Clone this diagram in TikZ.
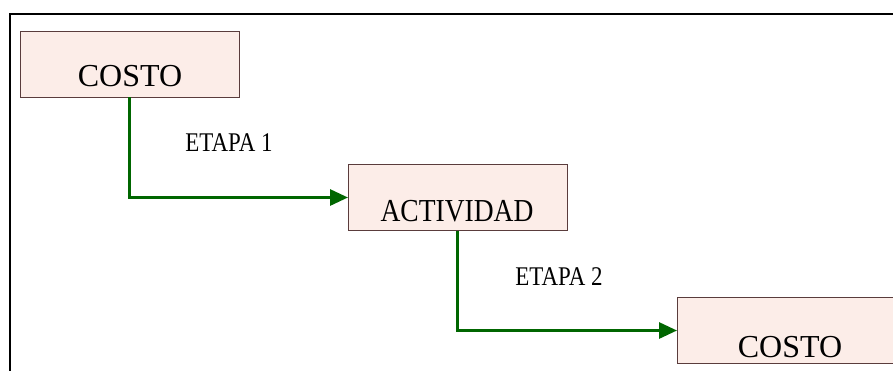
\documentclass[tikz,border=0pt]{standalone}
\usepackage{fontspec}
\setmainfont{Liberation Serif}
\usetikzlibrary{arrows.meta}
\definecolor{boxfill}{HTML}{FCEDE8}
\definecolor{boxline}{HTML}{5A3C3C}
\definecolor{arrowgreen}{RGB}{0,102,0}
\tikzset{
  stagebox/.style={draw=boxline, fill=boxfill, line width=1pt, minimum width=219pt, minimum height=66pt, inner sep=0pt, outer sep=0pt},
  boxtext/.style={anchor=base, inner sep=0pt, font=\fontsize{32}{36}\selectfont},
  steptext/.style={anchor=base, inner sep=0pt, font=\fontsize{27}{30}\selectfont},
  flow/.style={draw=arrowgreen, line width=3pt, -{Triangle[length=18pt,width=16pt]}}
}
\begin{document}
\begin{tikzpicture}[x=1pt,y=1pt]
\useasboundingbox (0,0) rectangle (893,-370);
\draw[line width=2pt] (10,-371) -- (10,-14) -- (894,-14);
\node[stagebox] (b1) at (129.5,-64) {};
\node[stagebox] (b2) at (457.5,-197.5) {};
\node[stagebox] (b3) at (786.5,-330.5) {};
\node[boxtext] (t1) at (130,-86) {COSTO};
\node[boxtext] (t2) at (457,-221) {\scalebox{0.86}[1]{ACTIVIDAD}};
\node[boxtext] (t3) at (790,-357) {COSTO};
\node[steptext] (e1) at (229,-151) {\scalebox{0.85}[1]{ETAPA 1}};
\node[steptext] (e2) at (559,-285) {\scalebox{0.85}[1]{ETAPA 2}};
\draw[flow] (b1.south) |- (b2.west);
\draw[flow] (b2.south) |- (b3.west);
\end{tikzpicture}
\end{document}
